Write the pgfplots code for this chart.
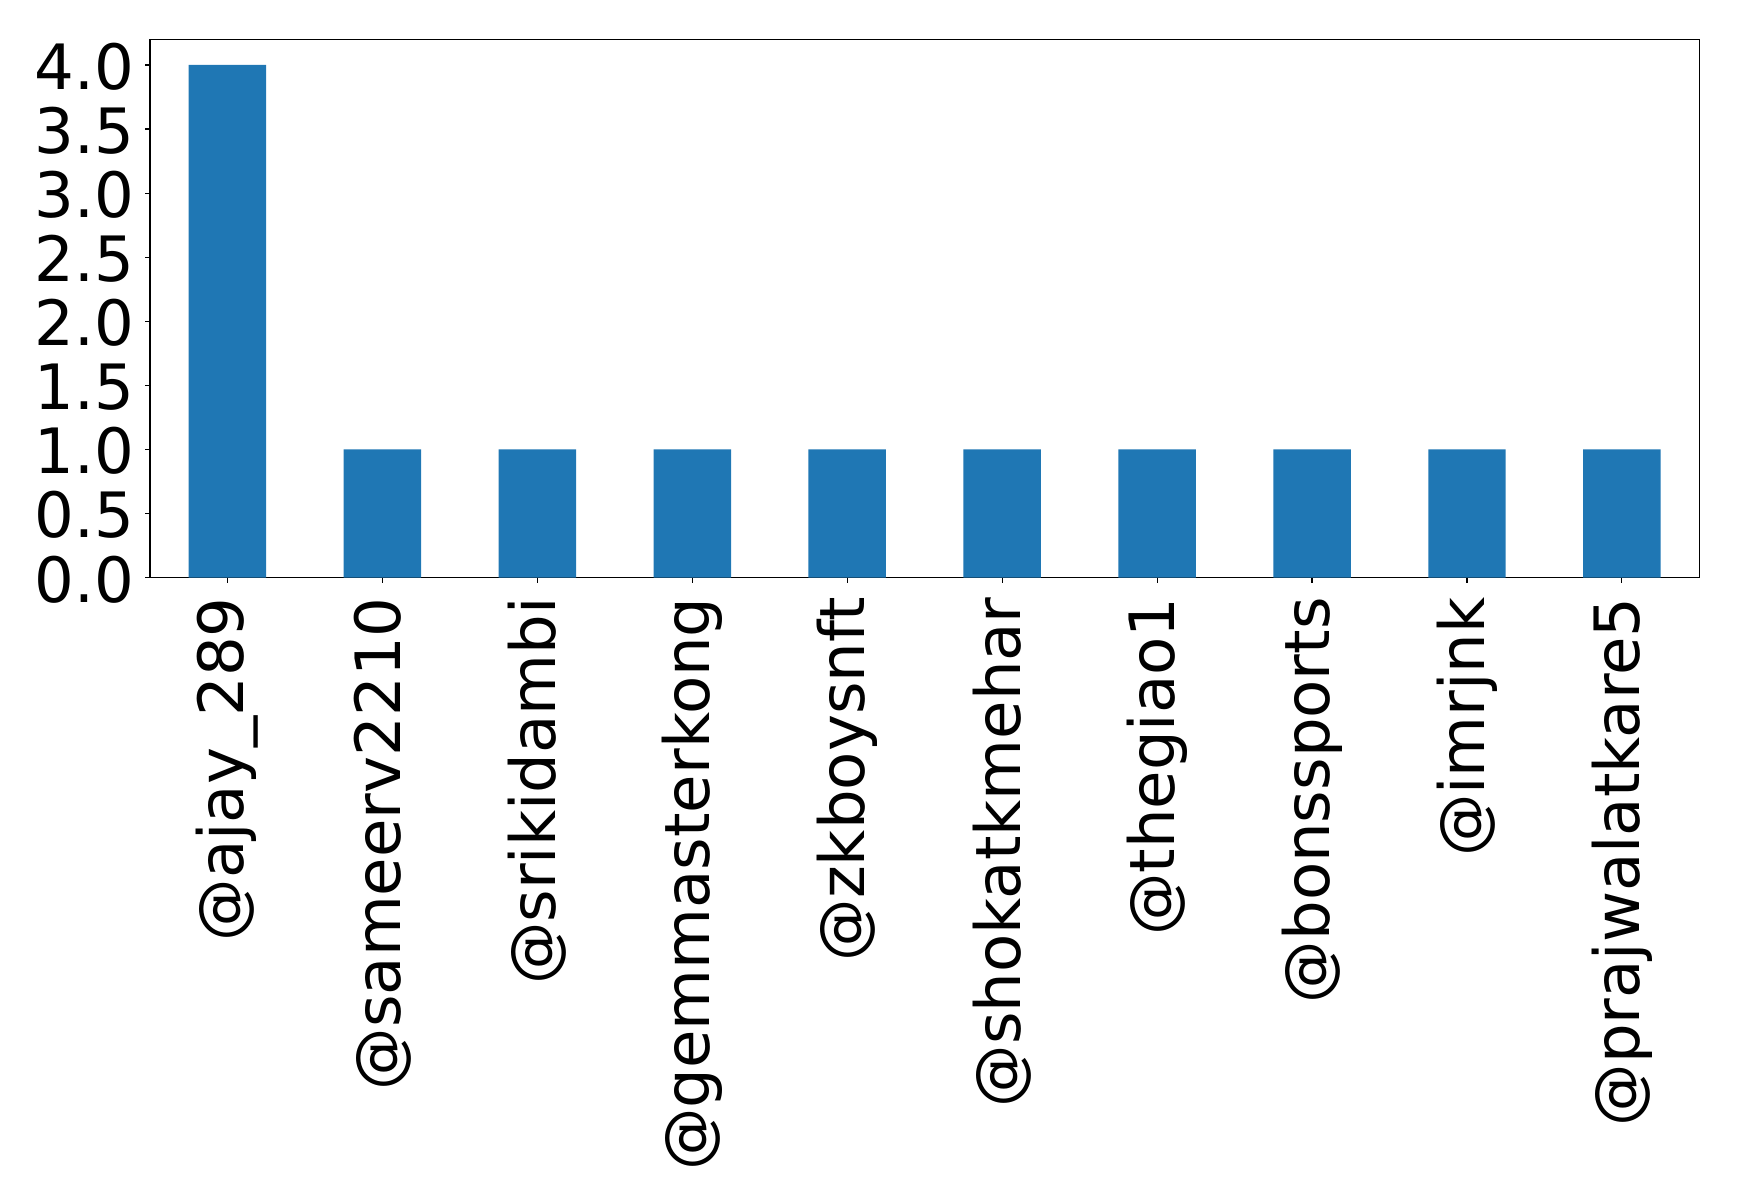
\documentclass[border=0pt]{standalone}
\usepackage{fontspec}
\setmainfont{DejaVu Sans}
\usepackage{pgfplots}
\pgfplotsset{compat=1.18}
\definecolor{mplblue}{HTML}{1F77B4}

\begin{document}
\begin{tikzpicture}
\begin{axis}[
    scale only axis,
    width=1115.5pt,
    height=387.6pt,
    xmin=-0.5, xmax=9.5,
    ymin=0, ymax=4.2,
    xtick={0,1,...,9},
    xticklabels={@ajay\_289,@sameerv2210,@srikidambi,@gemmasterkong,@zkboysnft,@shokatkmehar,@thegiao1,@bonssports,@imrjnk,@prajwalatkare5},
    ytick={0,0.5,...,4.0},
    /pgf/number format/.cd, fixed, fixed zerofill, precision=1, assume math mode=true,
    /pgfplots/.cd,
    tick align=outside,
    tick pos=left,
    major tick length=3.5pt,
    tick style={line width=0.8pt, black},
    axis line style={line width=0.8pt},
    tick label style={font=\fontsize{45}{54}\selectfont, inner sep=0pt},
    yticklabel style={anchor=east, xshift=-7.8pt, yshift=-1.2pt},
    % shift given in the rotated frame: negative x moves the label down
    xticklabel style={rotate=90, anchor=east, xshift=-10.5pt},
    ybar,
    bar width=0.5,
]
\addplot[fill=mplblue, draw=none] coordinates {(0,4)(1,1)(2,1)(3,1)(4,1)(5,1)(6,1)(7,1)(8,1)(9,1)};
\end{axis}
\pgfresetboundingbox
\path (-108pt,-448.8pt) rectangle (1144.1pt,415.9pt);
\end{tikzpicture}
\end{document}
